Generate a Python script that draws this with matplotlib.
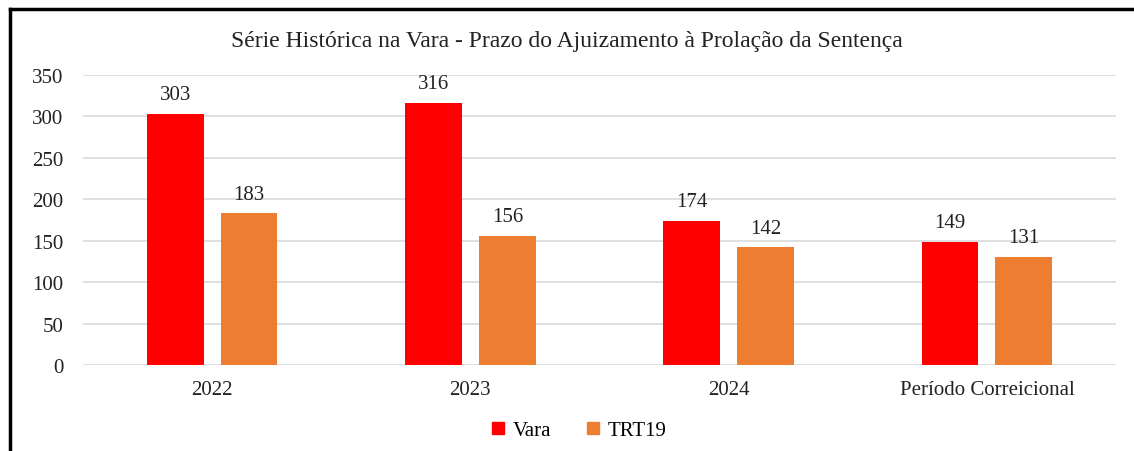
import numpy as np
import matplotlib
matplotlib.use("Agg")
import matplotlib.pyplot as plt
from matplotlib.lines import Line2D

categorias = ['2022', '2023', '2024', 'Período Correicional']
vara = [303, 316, 174, 149]
trt19 = [183, 156, 142, 131]
yticks = [0, 50, 100, 150, 200, 250, 300, 350]

plt.rcParams['font.family'] = ['Liberation Serif', 'DejaVu Serif']

fig = plt.figure(figsize=(11.34, 4.52), dpi=100)
ax = fig.add_axes([0.0732, 0.190, 0.911, 0.642])

x = np.arange(len(categorias))
w = 0.22
off = 0.143
b1 = ax.bar(x - off, vara, w, color='#FF0000', label='Vara', zorder=3)
b2 = ax.bar(x + off, trt19, w, color='#ED7D31', label='TRT19', zorder=3)

for bars in (b1, b2):
    for b in bars:
        ax.annotate(f'{int(b.get_height())}', (b.get_x() + b.get_width() / 2, b.get_height()),
                    xytext=(0, 7), textcoords='offset points', ha='center', va='bottom',
                    fontsize=15, color='#222222')

ax.set_xlim(-0.5, len(categorias) - 0.5)
ax.set_ylim(0, 350)
ax.set_yticks(yticks)
ax.set_xticks(x)
ax.set_xticklabels(categorias)
ax.tick_params(axis='both', length=0, labelsize=15, colors='#222222')
ax.tick_params(axis='y', pad=14)
ax.tick_params(axis='x', pad=11)
ax.grid(axis='y', color='#d9d9d9', linewidth=1.2, zorder=0)
for s in ax.spines.values():
    s.set_visible(False)

fig.text(0.5, 0.908, 'Série Histórica na Vara - Prazo do Ajuizamento à Prolação da Sentença',
         ha='center', va='center', fontsize=17, color='#222222')

handles = [Line2D([], [], marker='s', linestyle='none', markersize=8, color=c)
           for c in ('#FF0000', '#ED7D31')]
fig.legend(handles, ['Vara', 'TRT19'], loc='center', bbox_to_anchor=(0.51, 0.046),
           ncol=2, frameon=False, fontsize=15, handlelength=0.8, handletextpad=0.3,
           columnspacing=1.6)

# moldura (so as bordas esquerda e superior aparecem no recorte)
fig.add_artist(Line2D([10 / 1134, 10 / 1134], [0, 1 - 10 / 452], transform=fig.transFigure,
                      color='black', linewidth=2.5))
fig.add_artist(Line2D([10 / 1134, 1], [1 - 10 / 452, 1 - 10 / 452], transform=fig.transFigure,
                      color='black', linewidth=2.5))

fig.savefig('out.png', dpi=100, facecolor='white')
